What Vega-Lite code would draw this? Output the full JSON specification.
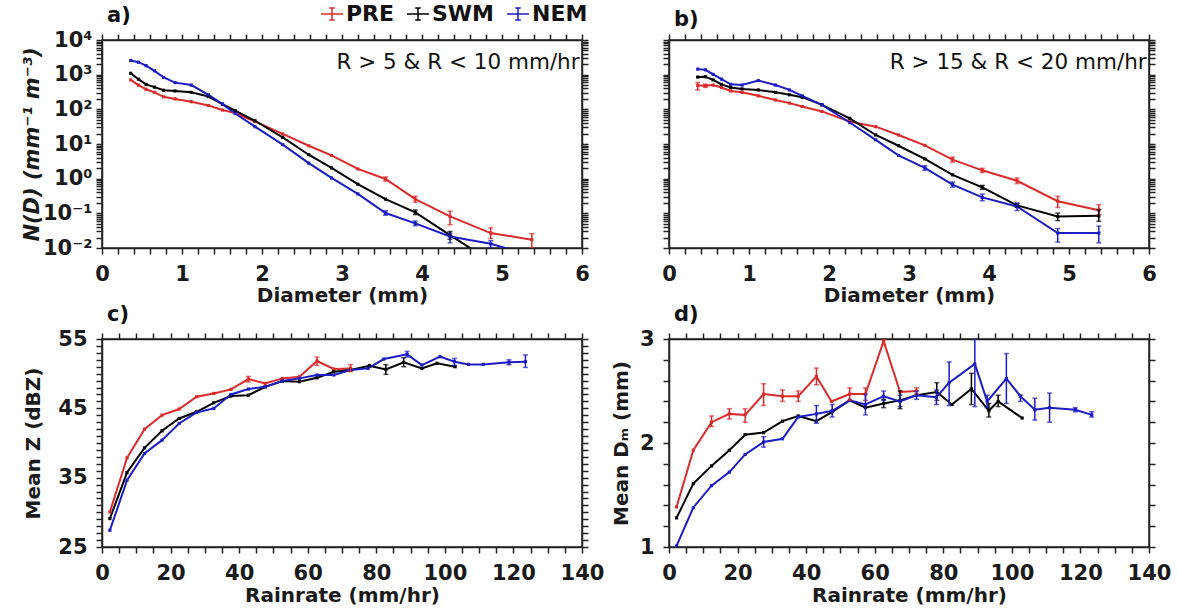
{
  "$schema": "https://vega.github.io/schema/vega-lite/v6.json",
  "background": "white",
  "padding": {"left": 20, "top": 2, "right": 5, "bottom": 5},
  "config": {
    "font": "DejaVu Sans",
    "view": {"stroke": "#222", "strokeWidth": 1.5},
    "axis": {
      "labelFontSize": 21, "labelFontWeight": "bold", "labelColor": "#1a1a1a",
      "titleFontSize": 20, "titleFontWeight": "bold", "titleColor": "#1a1a1a",
      "domainColor": "#222", "domainWidth": 1.5, "tickSize": 6,
      "grid": false, "labelPadding": 9, "labelOverlap": false, "labelFlush": false
    },
    "legend": {
      "orient": "none", "legendX": 218, "legendY": -38, "direction": "horizontal", "title": null,
      "symbolType": "M-1,0H1M0,-0.55V0.55M-0.25,-0.55H0.25M-0.25,0.55H0.25",
      "symbolSize": 484, "symbolStrokeWidth": 1.5, "symbolFillColor": "transparent",
      "labelFontSize": 22, "labelFontWeight": "bold", "labelColor": "#111", "labelOffset": 2, "columnPadding": 9
    },
    "title": {"fontSize": 21, "fontWeight": "bold", "anchor": "start", "frame": "group", "color": "#111", "dx": 5, "offset": 3}
  },
  "datasets": {
    "psdA": [
      {"region": "PRE", "D": 0.359, "N": 708}, {"region": "PRE", "D": 0.455, "N": 501}, {"region": "PRE", "D": 0.551, "N": 380}, {"region": "PRE", "D": 0.656, "N": 309}, {"region": "PRE", "D": 0.771, "N": 229}, {"region": "PRE", "D": 0.913, "N": 200}, {"region": "PRE", "D": 1.116, "N": 166}, {"region": "PRE", "D": 1.331, "N": 129}, {"region": "PRE", "D": 1.506, "N": 95.5}, {"region": "PRE", "D": 1.665, "N": 77.6}, {"region": "PRE", "D": 1.912, "N": 44.7}, {"region": "PRE", "D": 2.259, "N": 19.5}, {"region": "PRE", "D": 2.584, "N": 8.91}, {"region": "PRE", "D": 2.869, "N": 4.68}, {"region": "PRE", "D": 3.198, "N": 1.91}, {"region": "PRE", "D": 3.544, "N": 0.977, "lo": 0.85, "hi": 1.12}, {"region": "PRE", "D": 3.916, "N": 0.257, "lo": 0.21, "hi": 0.31}, {"region": "PRE", "D": 4.35, "N": 0.0813, "lo": 0.0468, "hi": 0.115}, {"region": "PRE", "D": 4.859, "N": 0.0269, "lo": 0.0186, "hi": 0.038}, {"region": "PRE", "D": 5.373, "N": 0.0174, "lo": 0.0100, "hi": 0.0257},
      {"region": "SWM", "D": 0.359, "N": 1096}, {"region": "SWM", "D": 0.455, "N": 741}, {"region": "SWM", "D": 0.551, "N": 525}, {"region": "SWM", "D": 0.656, "N": 437}, {"region": "SWM", "D": 0.771, "N": 355}, {"region": "SWM", "D": 0.913, "N": 339}, {"region": "SWM", "D": 1.116, "N": 309}, {"region": "SWM", "D": 1.331, "N": 234}, {"region": "SWM", "D": 1.506, "N": 141}, {"region": "SWM", "D": 1.665, "N": 91.2}, {"region": "SWM", "D": 1.912, "N": 46.8}, {"region": "SWM", "D": 2.259, "N": 15.5}, {"region": "SWM", "D": 2.584, "N": 4.90}, {"region": "SWM", "D": 2.869, "N": 2.04}, {"region": "SWM", "D": 3.198, "N": 0.692}, {"region": "SWM", "D": 3.544, "N": 0.257}, {"region": "SWM", "D": 3.916, "N": 0.107, "lo": 0.092, "hi": 0.125}, {"region": "SWM", "D": 4.35, "N": 0.0234, "lo": 0.018, "hi": 0.030}, {"region": "SWM", "D": 4.859, "N": 0.00417},
      {"region": "NEM", "D": 0.359, "N": 2570}, {"region": "NEM", "D": 0.455, "N": 2290}, {"region": "NEM", "D": 0.551, "N": 1820}, {"region": "NEM", "D": 0.656, "N": 1290}, {"region": "NEM", "D": 0.771, "N": 832}, {"region": "NEM", "D": 0.913, "N": 589}, {"region": "NEM", "D": 1.116, "N": 501}, {"region": "NEM", "D": 1.331, "N": 263}, {"region": "NEM", "D": 1.506, "N": 141}, {"region": "NEM", "D": 1.665, "N": 75.9}, {"region": "NEM", "D": 1.912, "N": 31.6}, {"region": "NEM", "D": 2.259, "N": 9.55}, {"region": "NEM", "D": 2.584, "N": 2.82}, {"region": "NEM", "D": 2.869, "N": 1.05}, {"region": "NEM", "D": 3.198, "N": 0.363}, {"region": "NEM", "D": 3.544, "N": 0.102, "lo": 0.088, "hi": 0.118}, {"region": "NEM", "D": 3.916, "N": 0.0513, "lo": 0.044, "hi": 0.060}, {"region": "NEM", "D": 4.35, "N": 0.0214, "lo": 0.0141, "hi": 0.0269}, {"region": "NEM", "D": 4.859, "N": 0.0132, "lo": 0.0100, "hi": 0.0162}, {"region": "NEM", "D": 5.373, "N": 0.00603}
    ],
    "psdB": [
      {"region": "PRE", "D": 0.359, "N": 490, "lo": 363, "hi": 589}, {"region": "PRE", "D": 0.455, "N": 479, "lo": 430, "hi": 530}, {"region": "PRE", "D": 0.551, "N": 501}, {"region": "PRE", "D": 0.656, "N": 427}, {"region": "PRE", "D": 0.771, "N": 339}, {"region": "PRE", "D": 0.913, "N": 309}, {"region": "PRE", "D": 1.116, "N": 245}, {"region": "PRE", "D": 1.331, "N": 186}, {"region": "PRE", "D": 1.506, "N": 151}, {"region": "PRE", "D": 1.665, "N": 120}, {"region": "PRE", "D": 1.912, "N": 87.1}, {"region": "PRE", "D": 2.259, "N": 44.7}, {"region": "PRE", "D": 2.584, "N": 31.6}, {"region": "PRE", "D": 2.869, "N": 18.2}, {"region": "PRE", "D": 3.198, "N": 9.12}, {"region": "PRE", "D": 3.544, "N": 3.55, "lo": 3.0, "hi": 4.2}, {"region": "PRE", "D": 3.916, "N": 1.74, "lo": 1.5, "hi": 2.0}, {"region": "PRE", "D": 4.35, "N": 0.871, "lo": 0.72, "hi": 1.05}, {"region": "PRE", "D": 4.859, "N": 0.224, "lo": 0.148, "hi": 0.309}, {"region": "PRE", "D": 5.373, "N": 0.123, "lo": 0.0912, "hi": 0.178},
      {"region": "SWM", "D": 0.359, "N": 851}, {"region": "SWM", "D": 0.455, "N": 871}, {"region": "SWM", "D": 0.551, "N": 708}, {"region": "SWM", "D": 0.656, "N": 525}, {"region": "SWM", "D": 0.771, "N": 427}, {"region": "SWM", "D": 0.913, "N": 389}, {"region": "SWM", "D": 1.116, "N": 363}, {"region": "SWM", "D": 1.331, "N": 309}, {"region": "SWM", "D": 1.506, "N": 263}, {"region": "SWM", "D": 1.665, "N": 224}, {"region": "SWM", "D": 1.912, "N": 135}, {"region": "SWM", "D": 2.259, "N": 55.0}, {"region": "SWM", "D": 2.584, "N": 18.2}, {"region": "SWM", "D": 2.869, "N": 8.91}, {"region": "SWM", "D": 3.198, "N": 3.72}, {"region": "SWM", "D": 3.544, "N": 1.29}, {"region": "SWM", "D": 3.916, "N": 0.562, "lo": 0.49, "hi": 0.64}, {"region": "SWM", "D": 4.35, "N": 0.170, "lo": 0.15, "hi": 0.19}, {"region": "SWM", "D": 4.859, "N": 0.0813, "lo": 0.0617, "hi": 0.102}, {"region": "SWM", "D": 5.373, "N": 0.0851, "lo": 0.0589, "hi": 0.129},
      {"region": "NEM", "D": 0.359, "N": 1445}, {"region": "NEM", "D": 0.455, "N": 1380}, {"region": "NEM", "D": 0.551, "N": 1023}, {"region": "NEM", "D": 0.656, "N": 741}, {"region": "NEM", "D": 0.771, "N": 525}, {"region": "NEM", "D": 0.913, "N": 501}, {"region": "NEM", "D": 1.116, "N": 676}, {"region": "NEM", "D": 1.331, "N": 501}, {"region": "NEM", "D": 1.506, "N": 363}, {"region": "NEM", "D": 1.665, "N": 245}, {"region": "NEM", "D": 1.912, "N": 135}, {"region": "NEM", "D": 2.259, "N": 41.7}, {"region": "NEM", "D": 2.584, "N": 13.2}, {"region": "NEM", "D": 2.869, "N": 4.68}, {"region": "NEM", "D": 3.198, "N": 2.04, "lo": 1.75, "hi": 2.35}, {"region": "NEM", "D": 3.544, "N": 0.676, "lo": 0.57, "hi": 0.80}, {"region": "NEM", "D": 3.916, "N": 0.288, "lo": 0.23, "hi": 0.36}, {"region": "NEM", "D": 4.35, "N": 0.158, "lo": 0.120, "hi": 0.20}, {"region": "NEM", "D": 4.859, "N": 0.0269, "lo": 0.0148, "hi": 0.0363}, {"region": "NEM", "D": 5.373, "N": 0.0269, "lo": 0.0141, "hi": 0.0427}
    ],
    "zc": [
      {"region": "PRE", "R": 2.3, "v": 30.06}, {"region": "PRE", "R": 7.3, "v": 37.86}, {"region": "PRE", "R": 12.4, "v": 42.0}, {"region": "PRE", "R": 17.5, "v": 44.02}, {"region": "PRE", "R": 22.5, "v": 44.9}, {"region": "PRE", "R": 27.6, "v": 46.67}, {"region": "PRE", "R": 32.6, "v": 47.15}, {"region": "PRE", "R": 37.6, "v": 47.73}, {"region": "PRE", "R": 42.7, "v": 49.22, "lo": 48.8, "hi": 49.6}, {"region": "PRE", "R": 47.6, "v": 48.6}, {"region": "PRE", "R": 52.6, "v": 49.32}, {"region": "PRE", "R": 57.6, "v": 49.56}, {"region": "PRE", "R": 62.7, "v": 51.82, "lo": 51.2, "hi": 52.4}, {"region": "PRE", "R": 67.6, "v": 50.67}, {"region": "PRE", "R": 72.5, "v": 50.76, "lo": 50.3, "hi": 51.3},
      {"region": "SWM", "R": 2.3, "v": 29.1}, {"region": "SWM", "R": 7.3, "v": 35.74}, {"region": "SWM", "R": 12.4, "v": 39.3}, {"region": "SWM", "R": 17.5, "v": 41.76}, {"region": "SWM", "R": 22.5, "v": 43.54}, {"region": "SWM", "R": 27.6, "v": 44.5}, {"region": "SWM", "R": 32.6, "v": 45.8}, {"region": "SWM", "R": 37.6, "v": 46.77}, {"region": "SWM", "R": 42.7, "v": 46.9}, {"region": "SWM", "R": 47.6, "v": 48.1}, {"region": "SWM", "R": 52.6, "v": 48.93}, {"region": "SWM", "R": 57.6, "v": 48.84}, {"region": "SWM", "R": 62.7, "v": 49.4}, {"region": "SWM", "R": 67.6, "v": 50.28}, {"region": "SWM", "R": 72.5, "v": 50.52}, {"region": "SWM", "R": 78.0, "v": 51.15}, {"region": "SWM", "R": 82.8, "v": 50.62, "lo": 49.9, "hi": 51.3}, {"region": "SWM", "R": 88.0, "v": 51.63, "lo": 51.0, "hi": 52.3}, {"region": "SWM", "R": 93.3, "v": 50.76}, {"region": "SWM", "R": 97.7, "v": 51.5}, {"region": "SWM", "R": 103.0, "v": 51.0},
      {"region": "NEM", "R": 2.3, "v": 27.41}, {"region": "NEM", "R": 7.3, "v": 34.63}, {"region": "NEM", "R": 12.4, "v": 38.49}, {"region": "NEM", "R": 17.5, "v": 40.41}, {"region": "NEM", "R": 22.5, "v": 42.82}, {"region": "NEM", "R": 27.6, "v": 44.41}, {"region": "NEM", "R": 32.6, "v": 44.99}, {"region": "NEM", "R": 37.6, "v": 47.0}, {"region": "NEM", "R": 42.7, "v": 47.78}, {"region": "NEM", "R": 47.6, "v": 48.1}, {"region": "NEM", "R": 52.6, "v": 48.93}, {"region": "NEM", "R": 57.6, "v": 49.32}, {"region": "NEM", "R": 62.7, "v": 49.8}, {"region": "NEM", "R": 67.6, "v": 49.8}, {"region": "NEM", "R": 72.5, "v": 50.52}, {"region": "NEM", "R": 77.6, "v": 50.76}, {"region": "NEM", "R": 82.2, "v": 52.11}, {"region": "NEM", "R": 89.0, "v": 52.79, "lo": 52.4, "hi": 53.2}, {"region": "NEM", "R": 93.3, "v": 51.24}, {"region": "NEM", "R": 98.6, "v": 52.45}, {"region": "NEM", "R": 102.8, "v": 51.73, "lo": 51.2, "hi": 52.2}, {"region": "NEM", "R": 106.9, "v": 51.34}, {"region": "NEM", "R": 111.2, "v": 51.34}, {"region": "NEM", "R": 118.7, "v": 51.63, "lo": 51.3, "hi": 52.0}, {"region": "NEM", "R": 123.5, "v": 51.73, "lo": 50.9, "hi": 52.7}
    ],
    "dmd": [
      {"region": "PRE", "R": 2.2, "v": 1.385}, {"region": "PRE", "R": 7.1, "v": 1.93}, {"region": "PRE", "R": 12.4, "v": 2.20, "lo": 2.16, "hi": 2.26}, {"region": "PRE", "R": 17.6, "v": 2.28, "lo": 2.23, "hi": 2.33}, {"region": "PRE", "R": 22.2, "v": 2.27, "lo": 2.20, "hi": 2.33}, {"region": "PRE", "R": 27.6, "v": 2.47, "lo": 2.36, "hi": 2.57}, {"region": "PRE", "R": 33.1, "v": 2.45, "lo": 2.40, "hi": 2.51}, {"region": "PRE", "R": 37.7, "v": 2.45, "lo": 2.40, "hi": 2.50}, {"region": "PRE", "R": 43.0, "v": 2.64, "lo": 2.56, "hi": 2.72}, {"region": "PRE", "R": 47.4, "v": 2.40}, {"region": "PRE", "R": 52.7, "v": 2.47, "lo": 2.41, "hi": 2.53}, {"region": "PRE", "R": 57.3, "v": 2.47, "lo": 2.41, "hi": 2.53}, {"region": "PRE", "R": 62.6, "v": 2.98, "lo": 2.95, "hi": 3.0}, {"region": "PRE", "R": 67.4, "v": 2.49}, {"region": "PRE", "R": 72.2, "v": 2.50, "lo": 2.47, "hi": 2.53},
      {"region": "SWM", "R": 2.2, "v": 1.28}, {"region": "SWM", "R": 7.1, "v": 1.61}, {"region": "SWM", "R": 12.4, "v": 1.78}, {"region": "SWM", "R": 17.6, "v": 1.93}, {"region": "SWM", "R": 22.2, "v": 2.08}, {"region": "SWM", "R": 27.6, "v": 2.10}, {"region": "SWM", "R": 33.1, "v": 2.21}, {"region": "SWM", "R": 37.7, "v": 2.26}, {"region": "SWM", "R": 43.0, "v": 2.21}, {"region": "SWM", "R": 47.6, "v": 2.30}, {"region": "SWM", "R": 52.7, "v": 2.41}, {"region": "SWM", "R": 57.3, "v": 2.34}, {"region": "SWM", "R": 62.6, "v": 2.38, "lo": 2.34, "hi": 2.42}, {"region": "SWM", "R": 67.4, "v": 2.41, "lo": 2.33, "hi": 2.50}, {"region": "SWM", "R": 72.2, "v": 2.46}, {"region": "SWM", "R": 78.1, "v": 2.49, "lo": 2.41, "hi": 2.58}, {"region": "SWM", "R": 82.5, "v": 2.37}, {"region": "SWM", "R": 88.2, "v": 2.52, "lo": 2.37, "hi": 2.67}, {"region": "SWM", "R": 93.3, "v": 2.31, "lo": 2.25, "hi": 2.38}, {"region": "SWM", "R": 96.0, "v": 2.40, "lo": 2.35, "hi": 2.46}, {"region": "SWM", "R": 103.0, "v": 2.24},
      {"region": "NEM", "R": 2.2, "v": 1.01}, {"region": "NEM", "R": 7.1, "v": 1.38}, {"region": "NEM", "R": 12.4, "v": 1.59}, {"region": "NEM", "R": 17.6, "v": 1.72}, {"region": "NEM", "R": 22.2, "v": 1.89}, {"region": "NEM", "R": 27.6, "v": 2.01, "lo": 1.96, "hi": 2.06}, {"region": "NEM", "R": 33.1, "v": 2.04}, {"region": "NEM", "R": 37.7, "v": 2.25}, {"region": "NEM", "R": 43.0, "v": 2.28, "lo": 2.19, "hi": 2.36}, {"region": "NEM", "R": 47.6, "v": 2.31, "lo": 2.25, "hi": 2.37}, {"region": "NEM", "R": 52.7, "v": 2.41}, {"region": "NEM", "R": 57.3, "v": 2.37, "lo": 2.27, "hi": 2.47}, {"region": "NEM", "R": 62.6, "v": 2.45, "lo": 2.41, "hi": 2.50}, {"region": "NEM", "R": 67.4, "v": 2.40, "lo": 2.35, "hi": 2.46}, {"region": "NEM", "R": 72.2, "v": 2.46, "lo": 2.42, "hi": 2.50}, {"region": "NEM", "R": 78.0, "v": 2.44, "lo": 2.37, "hi": 2.51}, {"region": "NEM", "R": 81.7, "v": 2.58, "lo": 2.36, "hi": 2.78}, {"region": "NEM", "R": 89.2, "v": 2.76, "lo": 2.35, "hi": 3.0}, {"region": "NEM", "R": 92.8, "v": 2.40, "lo": 2.34, "hi": 2.46}, {"region": "NEM", "R": 98.4, "v": 2.62, "lo": 2.38, "hi": 2.86}, {"region": "NEM", "R": 102.5, "v": 2.45, "lo": 2.40, "hi": 2.46}, {"region": "NEM", "R": 106.7, "v": 2.32, "lo": 2.22, "hi": 2.43}, {"region": "NEM", "R": 111.0, "v": 2.34, "lo": 2.20, "hi": 2.48}, {"region": "NEM", "R": 118.5, "v": 2.32, "lo": 2.30, "hi": 2.34}, {"region": "NEM", "R": 123.3, "v": 2.27, "lo": 2.25, "hi": 2.30}
    ]
  },
  "columns": 2,
  "spacing": {"row": 91, "column": 87},
  "bounds": "flush",
  "concat": [
    {
      "width": 480, "height": 208,
      "title": {"text": "a)"},
      "data": {"name": "psdA"},
      "layer": [
        {
          "mark": {"type": "line", "clip": true, "strokeWidth": 2, "point": {"filled": true, "shape": "square", "size": 10}},
          "encoding": {
            "x": {"field": "D", "type": "quantitative", "scale": {"domain": [0, 6], "nice": false},
              "axis": {"orient": "bottom", "title": "Diameter (mm)", "titlePadding": 1, "tickColor": "#222", "tickWidth": 1.5, "values": [0,0.2,0.4,0.6,0.8,1,1.2,1.4,1.6,1.8,2,2.2,2.4,2.6,2.8,3,3.2,3.4,3.6,3.8,4,4.2,4.4,4.6,4.8,5,5.2,5.4,5.6,5.8,6],
                "labelExpr": "indexof([0,1,2,3,4,5,6], datum.value) >= 0 ? format(datum.value, 'd') : ''",
                "encode": {"ticks": {"update": {"y2": {"signal": "indexof([0,1,2,3,4,5,6], datum.value) >= 0 ? 10 : 6"}}}}}},
            "y": {"field": "N", "type": "quantitative", "scale": {"type": "log", "domain": [0.01, 10000], "nice": false},
              "axis": {"orient": "left", "title": "N(D) (mm⁻¹ m⁻³)", "titleFontStyle": "italic", "titleFontSize": 21, "titlePadding": 0, "labelPadding": 4, "tickColor": "#222", "tickWidth": 1.5,
                "values": [0.01,0.02,0.03,0.04,0.05,0.06,0.07,0.08,0.09,0.1,0.2,0.3,0.4,0.5,0.6,0.7,0.8,0.9,1,2,3,4,5,6,7,8,9,10,20,30,40,50,60,70,80,90,100,200,300,400,500,600,700,800,900,1000,2000,3000,4000,5000,6000,7000,8000,9000,10000],
                "labelExpr": "datum.value == 10000 ? '10⁴' : datum.value == 1000 ? '10³' : datum.value == 100 ? '10²' : datum.value == 10 ? '10¹' : datum.value == 1 ? '10⁰' : datum.value == 0.1 ? '10⁻¹' : datum.value == 0.01 ? '10⁻²' : ''",
                "encode": {"ticks": {"update": {"x2": {"signal": "indexof([0.01,0.1,1,10,100,1000,10000], datum.value) >= 0 ? -10 : -6"}}}}}},
            "color": {"field": "region", "type": "nominal", "scale": {"domain": ["PRE", "SWM", "NEM"], "range": ["#dc2b2b", "#000000", "#1c1cc4"]}}
          }
        },
        {
          "transform": [{"filter": "isValid(datum.lo)"}],
          "mark": {"type": "errorbar", "ticks": true, "clip": true, "thickness": 1.5},
          "encoding": {
            "x": {"field": "D", "type": "quantitative", "axis": null},
            "y": {"field": "lo", "type": "quantitative", "axis": null},
            "y2": {"field": "hi"},
            "color": {"field": "region", "type": "nominal"}
          }
        },
        {
          "mark": {"type": "point", "opacity": 0},
          "encoding": {
            "x": {"field": "D", "type": "quantitative", "axis": {"orient": "top", "labels": false, "title": null, "tickColor": "#222", "tickWidth": 1.5, "values": [0,0.2,0.4,0.6,0.8,1,1.2,1.4,1.6,1.8,2,2.2,2.4,2.6,2.8,3,3.2,3.4,3.6,3.8,4,4.2,4.4,4.6,4.8,5,5.2,5.4,5.6,5.8,6],
              "encode": {"ticks": {"update": {"y2": {"signal": "indexof([0,1,2,3,4,5,6], datum.value) >= 0 ? -10 : -6"}}}}}},
            "y": {"field": "N", "type": "quantitative", "axis": {"orient": "right", "labels": false, "title": null, "tickColor": "#222", "tickWidth": 1.5, "values": [0.01,0.02,0.03,0.04,0.05,0.06,0.07,0.08,0.09,0.1,0.2,0.3,0.4,0.5,0.6,0.7,0.8,0.9,1,2,3,4,5,6,7,8,9,10,20,30,40,50,60,70,80,90,100,200,300,400,500,600,700,800,900,1000,2000,3000,4000,5000,6000,7000,8000,9000,10000],
              "encode": {"ticks": {"update": {"x2": {"signal": "indexof([0.01,0.1,1,10,100,1000,10000], datum.value) >= 0 ? 10 : 6"}}}}}}
          }
        },
        {
          "data": {"values": [{"t": "R > 5 & R < 10 mm/hr"}]},
          "mark": {"type": "text", "align": "right", "baseline": "middle", "fontSize": 21.5, "color": "#111"},
          "encoding": {
            "x": {"datum": 5.97, "type": "quantitative", "axis": null},
            "y": {"datum": 2200, "type": "quantitative", "axis": null},
            "text": {"field": "t"}
          }
        }
      ],
      "resolve": {"axis": {"x": "independent", "y": "independent"}}
    },
    {
      "width": 480, "height": 208,
      "title": {"text": "b)"},
      "data": {"name": "psdB"},
      "layer": [
        {
          "mark": {"type": "line", "clip": true, "strokeWidth": 2, "point": {"filled": true, "shape": "square", "size": 10}},
          "encoding": {
            "x": {"field": "D", "type": "quantitative", "scale": {"domain": [0, 6], "nice": false},
              "axis": {"orient": "bottom", "title": "Diameter (mm)", "titlePadding": 1, "tickColor": "#222", "tickWidth": 1.5, "values": [0,0.2,0.4,0.6,0.8,1,1.2,1.4,1.6,1.8,2,2.2,2.4,2.6,2.8,3,3.2,3.4,3.6,3.8,4,4.2,4.4,4.6,4.8,5,5.2,5.4,5.6,5.8,6],
                "labelExpr": "indexof([0,1,2,3,4,5,6], datum.value) >= 0 ? format(datum.value, 'd') : ''",
                "encode": {"ticks": {"update": {"y2": {"signal": "indexof([0,1,2,3,4,5,6], datum.value) >= 0 ? 10 : 6"}}}}}},
            "y": {"field": "N", "type": "quantitative", "scale": {"type": "log", "domain": [0.01, 10000], "nice": false},
              "axis": {"orient": "left", "title": null, "labels": false, "tickColor": "#222", "tickWidth": 1.5,
                "values": [0.01,0.02,0.03,0.04,0.05,0.06,0.07,0.08,0.09,0.1,0.2,0.3,0.4,0.5,0.6,0.7,0.8,0.9,1,2,3,4,5,6,7,8,9,10,20,30,40,50,60,70,80,90,100,200,300,400,500,600,700,800,900,1000,2000,3000,4000,5000,6000,7000,8000,9000,10000],
                "encode": {"ticks": {"update": {"x2": {"signal": "indexof([0.01,0.1,1,10,100,1000,10000], datum.value) >= 0 ? -10 : -6"}}}}}},
            "color": {"field": "region", "type": "nominal", "scale": {"domain": ["PRE", "SWM", "NEM"], "range": ["#dc2b2b", "#000000", "#1c1cc4"]}}
          }
        },
        {
          "transform": [{"filter": "isValid(datum.lo)"}],
          "mark": {"type": "errorbar", "ticks": true, "clip": true, "thickness": 1.5},
          "encoding": {
            "x": {"field": "D", "type": "quantitative", "axis": null},
            "y": {"field": "lo", "type": "quantitative", "axis": null},
            "y2": {"field": "hi"},
            "color": {"field": "region", "type": "nominal"}
          }
        },
        {
          "mark": {"type": "point", "opacity": 0},
          "encoding": {
            "x": {"field": "D", "type": "quantitative", "axis": {"orient": "top", "labels": false, "title": null, "tickColor": "#222", "tickWidth": 1.5, "values": [0,0.2,0.4,0.6,0.8,1,1.2,1.4,1.6,1.8,2,2.2,2.4,2.6,2.8,3,3.2,3.4,3.6,3.8,4,4.2,4.4,4.6,4.8,5,5.2,5.4,5.6,5.8,6],
              "encode": {"ticks": {"update": {"y2": {"signal": "indexof([0,1,2,3,4,5,6], datum.value) >= 0 ? -10 : -6"}}}}}},
            "y": {"field": "N", "type": "quantitative", "axis": {"orient": "right", "labels": false, "title": null, "tickColor": "#222", "tickWidth": 1.5, "values": [0.01,0.02,0.03,0.04,0.05,0.06,0.07,0.08,0.09,0.1,0.2,0.3,0.4,0.5,0.6,0.7,0.8,0.9,1,2,3,4,5,6,7,8,9,10,20,30,40,50,60,70,80,90,100,200,300,400,500,600,700,800,900,1000,2000,3000,4000,5000,6000,7000,8000,9000,10000],
              "encode": {"ticks": {"update": {"x2": {"signal": "indexof([0.01,0.1,1,10,100,1000,10000], datum.value) >= 0 ? 10 : 6"}}}}}}
          }
        },
        {
          "data": {"values": [{"t": "R > 15 & R < 20 mm/hr"}]},
          "mark": {"type": "text", "align": "right", "baseline": "middle", "fontSize": 21.5, "color": "#111"},
          "encoding": {
            "x": {"datum": 5.97, "type": "quantitative", "axis": null},
            "y": {"datum": 2200, "type": "quantitative", "axis": null},
            "text": {"field": "t"}
          }
        }
      ],
      "resolve": {"axis": {"x": "independent", "y": "independent"}}
    },
    {
      "width": 480, "height": 208,
      "title": {"text": "c)"},
      "data": {"name": "zc"},
      "layer": [
        {
          "mark": {"type": "line", "clip": true, "strokeWidth": 2, "point": {"filled": true, "shape": "square", "size": 10}},
          "encoding": {
            "x": {"field": "R", "type": "quantitative", "scale": {"domain": [0, 140], "nice": false},
              "axis": {"orient": "bottom", "title": "Rainrate (mm/hr)", "titlePadding": 2, "tickColor": "#222", "tickWidth": 1.5, "values": [0,5,10,15,20,25,30,35,40,45,50,55,60,65,70,75,80,85,90,95,100,105,110,115,120,125,130,135,140],
                "labelExpr": "indexof([0,20,40,60,80,100,120,140], datum.value) >= 0 ? format(datum.value, 'd') : ''",
                "encode": {"ticks": {"update": {"y2": {"signal": "indexof([0,20,40,60,80,100,120,140], datum.value) >= 0 ? 10 : 6"}}}}}},
            "y": {"field": "v", "type": "quantitative", "scale": {"domain": [25, 55], "nice": false},
              "axis": {"orient": "left", "title": "Mean  Z (dBZ)", "titlePadding": 14, "tickColor": "#222", "tickWidth": 1.5,
                "values": [25,26,27,28,29,30,31,32,33,34,35,36,37,38,39,40,41,42,43,44,45,46,47,48,49,50,51,52,53,54,55],
                "labelExpr": "indexof([25,35,45,55], datum.value) >= 0 ? format(datum.value, 'd') : ''",
                "encode": {"ticks": {"update": {"x2": {"signal": "indexof([25,35,45,55], datum.value) >= 0 ? -10 : -6"}}}}}},
            "color": {"field": "region", "type": "nominal", "scale": {"domain": ["PRE", "SWM", "NEM"], "range": ["#dc2b2b", "#000000", "#1c1cc4"]}}
          }
        },
        {
          "transform": [{"filter": "isValid(datum.lo)"}],
          "mark": {"type": "errorbar", "ticks": true, "clip": true, "thickness": 1.5},
          "encoding": {
            "x": {"field": "R", "type": "quantitative", "axis": null},
            "y": {"field": "lo", "type": "quantitative", "axis": null},
            "y2": {"field": "hi"},
            "color": {"field": "region", "type": "nominal"}
          }
        },
        {
          "mark": {"type": "point", "opacity": 0},
          "encoding": {
            "x": {"field": "R", "type": "quantitative", "axis": {"orient": "top", "labels": false, "title": null, "tickColor": "#222", "tickWidth": 1.5, "values": [0,5,10,15,20,25,30,35,40,45,50,55,60,65,70,75,80,85,90,95,100,105,110,115,120,125,130,135,140],
              "encode": {"ticks": {"update": {"y2": {"signal": "indexof([0,20,40,60,80,100,120,140], datum.value) >= 0 ? -10 : -6"}}}}}},
            "y": {"field": "v", "type": "quantitative", "axis": {"orient": "right", "labels": false, "title": null, "tickColor": "#222", "tickWidth": 1.5, "values": [25,26,27,28,29,30,31,32,33,34,35,36,37,38,39,40,41,42,43,44,45,46,47,48,49,50,51,52,53,54,55],
              "encode": {"ticks": {"update": {"x2": {"signal": "indexof([25,35,45,55], datum.value) >= 0 ? 10 : 6"}}}}}}
          }
        }
      ],
      "resolve": {"axis": {"x": "independent", "y": "independent"}}
    },
    {
      "width": 480, "height": 208,
      "title": {"text": "d)"},
      "data": {"name": "dmd"},
      "layer": [
        {
          "mark": {"type": "line", "clip": true, "strokeWidth": 2, "point": {"filled": true, "shape": "square", "size": 10}},
          "encoding": {
            "x": {"field": "R", "type": "quantitative", "scale": {"domain": [0, 140], "nice": false},
              "axis": {"orient": "bottom", "title": "Rainrate (mm/hr)", "titlePadding": 2, "tickColor": "#222", "tickWidth": 1.5, "values": [0,5,10,15,20,25,30,35,40,45,50,55,60,65,70,75,80,85,90,95,100,105,110,115,120,125,130,135,140],
                "labelExpr": "indexof([0,20,40,60,80,100,120,140], datum.value) >= 0 ? format(datum.value, 'd') : ''",
                "encode": {"ticks": {"update": {"y2": {"signal": "indexof([0,20,40,60,80,100,120,140], datum.value) >= 0 ? 10 : 6"}}}}}},
            "y": {"field": "v", "type": "quantitative", "scale": {"domain": [1, 3], "nice": false},
              "axis": {"orient": "left", "title": "Mean  Dₘ (mm)", "titlePadding": 8, "tickColor": "#222", "tickWidth": 1.5,
                "values": [1,1.2,1.4,1.6,1.8,2,2.2,2.4,2.6,2.8,3],
                "labelExpr": "indexof([1,2,3], datum.value) >= 0 ? format(datum.value, 'd') : ''",
                "encode": {"ticks": {"update": {"x2": {"signal": "indexof([1,2,3], datum.value) >= 0 ? -10 : -6"}}}}}},
            "color": {"field": "region", "type": "nominal", "scale": {"domain": ["PRE", "SWM", "NEM"], "range": ["#dc2b2b", "#000000", "#1c1cc4"]}}
          }
        },
        {
          "transform": [{"filter": "isValid(datum.lo)"}],
          "mark": {"type": "errorbar", "ticks": true, "clip": true, "thickness": 1.5},
          "encoding": {
            "x": {"field": "R", "type": "quantitative", "axis": null},
            "y": {"field": "lo", "type": "quantitative", "axis": null},
            "y2": {"field": "hi"},
            "color": {"field": "region", "type": "nominal"}
          }
        },
        {
          "mark": {"type": "point", "opacity": 0},
          "encoding": {
            "x": {"field": "R", "type": "quantitative", "axis": {"orient": "top", "labels": false, "title": null, "tickColor": "#222", "tickWidth": 1.5, "values": [0,5,10,15,20,25,30,35,40,45,50,55,60,65,70,75,80,85,90,95,100,105,110,115,120,125,130,135,140],
              "encode": {"ticks": {"update": {"y2": {"signal": "indexof([0,20,40,60,80,100,120,140], datum.value) >= 0 ? -10 : -6"}}}}}},
            "y": {"field": "v", "type": "quantitative", "axis": {"orient": "right", "labels": false, "title": null, "tickColor": "#222", "tickWidth": 1.5, "values": [1,1.2,1.4,1.6,1.8,2,2.2,2.4,2.6,2.8,3],
              "encode": {"ticks": {"update": {"x2": {"signal": "indexof([1,2,3], datum.value) >= 0 ? 10 : 6"}}}}}}
          }
        }
      ],
      "resolve": {"axis": {"x": "independent", "y": "independent"}}
    }
  ]
}
